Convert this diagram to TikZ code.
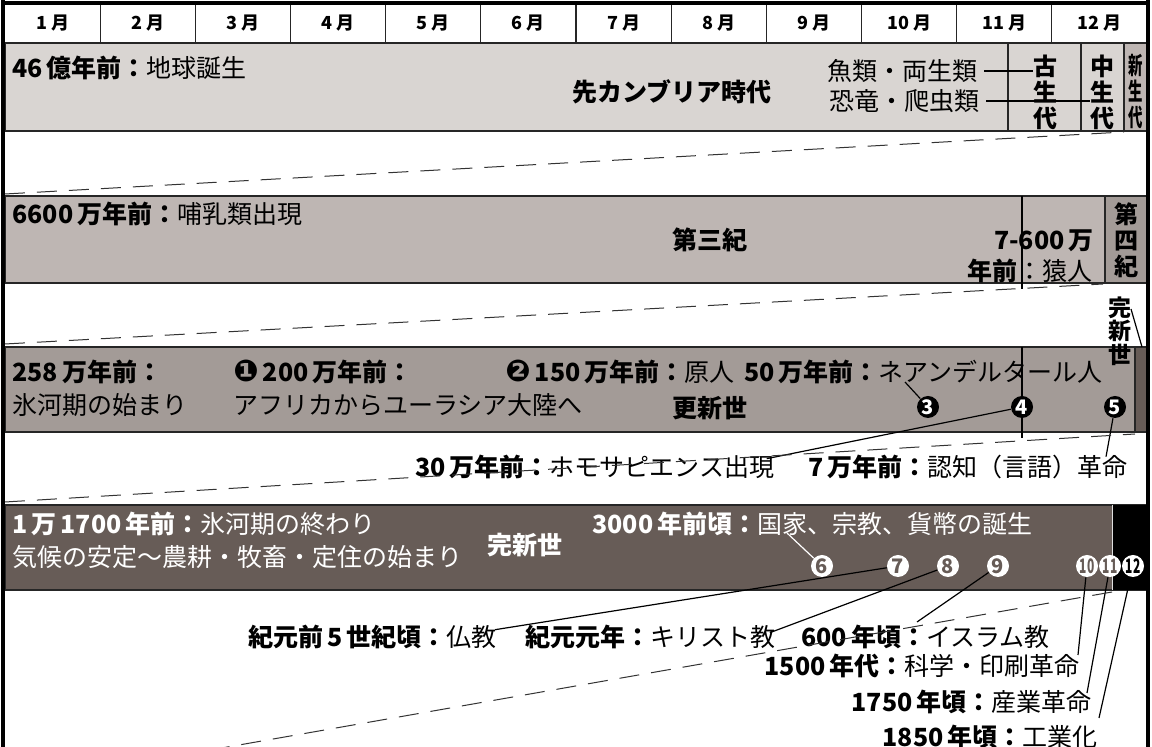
\documentclass[tikz,border=0pt]{standalone}
\usepackage{fontspec}
\setmainfont{Noto Sans CJK JP}
\newfontfamily\dv{DejaVu Sans}
\usetikzlibrary{calc}
\definecolor{bandA}{HTML}{D9D5D2}
\definecolor{bandB}{HTML}{BEB6B3}
\definecolor{bandC}{HTML}{A39B97}
\definecolor{bandD}{HTML}{675C57}
\newcommand\ksp{\hspace{2pt}}
\newcommand\dnum[1]{{\fontsize{15pt}{15pt}\dv #1}}
\begin{document}
\begin{tikzpicture}[x=0.5pt,y=-0.5pt,
  txt/.style={inner sep=0pt, font=\fontsize{12.5pt}{14pt}\selectfont},
  btxt/.style={inner sep=0pt, font=\fontsize{12.5pt}{14pt}\selectfont\bfseries},
  vtxt/.style={inner sep=0pt, align=center, font=\fontsize{12pt}{13pt}\selectfont\bfseries},
  htxt/.style={inner sep=0pt, align=center, font=\fontsize{11.5pt}{11.75pt}\selectfont\bfseries},
  mon/.style={inner sep=0pt, font=\fontsize{9pt}{10pt}\selectfont\bfseries},
  cell/.style={draw=black!85, line width=0.6pt},
  frame/.style={draw=black, line width=1.6pt},
  zoomline/.style={draw=black!80, line width=0.5pt, dash pattern=on 10pt off 6pt},
  conn/.style={draw=black, line width=0.6pt},
  bnum/.style={circle, fill=black, text=white, inner sep=0pt, minimum size=11pt, font=\fontsize{10pt}{10pt}\selectfont\bfseries},
  wnum/.style={circle, fill=white, text=bandD, inner sep=0pt, minimum size=11pt, font=\fontsize{10pt}{10pt}\selectfont\bfseries},
]
\useasboundingbox (0,0) rectangle (1152,747);
\clip (0,0) rectangle (1152,747);
\fill[white] (0,0) rectangle (1152,747);

% header
\foreach \i in {1,...,12} {
  \node[mon] (m\i) at ({5+(\i-0.5)*95.17},23.5) {\i\ksp 月};
}
\foreach \i in {1,...,11} {
  \draw[cell] ({5+\i*95.17},3) -- ({5+\i*95.17},43);
}

% band 1
\draw[cell, fill=bandA] (5,43) rectangle (1147,131);
\draw[cell] (1008,43) rectangle (1081,131);
\draw[cell] (1081,43) rectangle (1124,131);
\draw[cell, fill=bandB] (1124,43) rectangle (1147,131);
\node[txt, anchor=west] (t46) at (12,68) {{\bfseries 46\ksp 億年前：}地球誕生};
\node[btxt] (pre) at (672,92) {先カンブリア時代};
\node[txt, anchor=east] (fish) at (978,71) {魚類・両生類};
\node[txt, anchor=east] (dino) at (980,101) {恐竜・爬虫類};
\node[vtxt] (ko) at (1045,92) {古\\生\\代};
\node[vtxt] (chu) at (1102,92) {中\\生\\代};
\node[vtxt] (shin) at (1136,92) {\scalebox{0.6}[1]{新}\\\scalebox{0.6}[1]{生}\\\scalebox{0.6}[1]{代}};
\draw[conn] ([xshift=3]fish.east) -- (fish.east -| ko.west);
\draw[conn] ([xshift=3]dino.east) -- (dino.east -| chu.west);

% band 2
\draw[cell, fill=bandB] (5,196) rectangle (1147,283);
\draw[cell, fill=bandC] (1105,196) rectangle (1147,283);
\draw[conn] (1022,196) -- (1022,289);
\node[txt, anchor=west] (t66) at (12,214) {{\bfseries 6600\ksp 万年前：}哺乳類出現};
\node[btxt] (third) at (710,240) {第三紀};
\node[btxt, anchor=east] (ape1) at (1094,241) {7-600\ksp 万};
\node[txt, anchor=east] (ape2) at (1093,271) {{\bfseries 年前}：猿人};
\node[vtxt] (q4) at (1126,240) {第\\四\\紀};

% band 3
\draw[cell, fill=bandC] (5,347) rectangle (1147,432);
\draw[cell, fill=bandD] (1135,347) rectangle (1147,432);
\draw[conn] (1022,347) -- (1022,438);
\node[txt, anchor=west] (t258) at (12,372) {\bfseries 258\ksp 万年前：};
\node[txt, anchor=west] (ice) at (12,405) {氷河期の始まり};
\node[txt, anchor=west] (t200) at (233,372) {\bfseries\dnum{❶}\ksp 200\ksp 万年前：};
\node[txt, anchor=west] (t150) at (505,372) {{\bfseries\dnum{❷}\ksp 150\ksp 万年前：}原人};
\node[txt, anchor=west] (afr) at (233,405) {アフリカからユーラシア大陸へ};
\node[txt, anchor=west] (t50) at (744,372) {{\bfseries 50\ksp 万年前：}ネアンデルタール人};
\node[btxt] (pleist) at (710,408) {更新世};
\node[bnum] (n3) at (928,407) {3};
\node[bnum] (n4) at (1022,407) {4};
\node[bnum] (n5) at (1115,407) {5};
\coordinate (n3e) at (905,382);
\draw[conn] (n3) -- (n3e);

% holocene label
\node[htxt] (hol) at (1120,331) {完\\新\\世};
\coordinate (hola) at (1131,309);
\coordinate (hols) at (1142,347);
\draw[conn] (hola) -- (hols);

% band 3 -> 4 labels
\node[txt, anchor=west] (t30) at (415,467) {{\bfseries 30\ksp 万年前：}ホモサピエンス出現};
\node[txt, anchor=west] (t7) at (808,467) {{\bfseries 7\ksp 万年前：}認知（言語）革命};
\coordinate (t30e) at ($(t30.north east)+(-8,4)$);
\coordinate (t7e) at ($(t7.north east)+(-22,2)$);
\draw[conn] (n4) -- (t30e);
\draw[conn] (n5) -- (t7e);

% band 4
\draw[cell, fill=bandD] (5,505) rectangle (1147,590);
\fill[black] (1112,505) rectangle (1147,590);
\draw[white!75!gray, line width=0.5pt] (1112,505) -- (1112,590);
\node[txt, text=white, anchor=west] (t117) at (12,524) {{\bfseries 1\ksp 万\ksp 1700\ksp 年前：}氷河期の終わり};
\node[txt, text=white, anchor=west] (clim) at (12,557) {気候の安定〜農耕・牧畜・定住の始まり};
\node[btxt, text=white] (holo) at (525,545) {完新世};
\node[txt, text=white, anchor=west] (t3000) at (592,524) {{\bfseries 3000\ksp 年前頃：}国家、宗教、貨幣の誕生};
\node[wnum] (n6) at (822,566) {6};
\node[wnum] (n7) at (898,566) {7};
\node[wnum] (n8) at (948,566) {8};
\node[wnum] (n9) at (998,566) {9};
\node[wnum] (n10) at (1087,566) {\scalebox{0.6}[1]{10}};
\node[wnum] (n11) at (1110,566) {\scalebox{0.6}[1]{11}};
\node[wnum, text=black] (n12) at (1133,566) {\scalebox{0.6}[1]{12}};
\coordinate (n6e) at (787,533);
\draw[white, line width=0.6pt] (n6) -- (n6e);

% below band 4
\node[txt, anchor=west] (tbud) at (248,637) {{\bfseries 紀元前\ksp 5\ksp 世紀頃：}仏教};
\node[txt, anchor=west] (tchr) at ([xshift=14]tbud.east) {{\bfseries 紀元元年：}キリスト教};
\node[txt, anchor=east] (tisl) at (1050,637) {{\bfseries 600\ksp 年頃：}イスラム教};
\node[txt, anchor=east] (t1500) at (1080,666) {{\bfseries 1500\ksp 年代：}科学・印刷革命};
\node[txt, anchor=east] (t1750) at (1092,702) {{\bfseries 1750\ksp 年頃：}産業革命};
\node[txt, anchor=east] (t1850) at (1098,737) {{\bfseries 1850\ksp 年頃：}工業化};
\coordinate (n7e) at ($(tbud.north east)+(-2,5)$);
\coordinate (n8e) at ($(tchr.north east)+(-6,8)$);
\coordinate (n9e) at (917,622);
\coordinate (n10e) at (1078,655);
\coordinate (n11e) at (1087,693);
\coordinate (n12e) at (1099,718);
\draw[conn] (n7) -- (n7e);
\draw[conn] (n8) -- (n8e);
\draw[conn] (n9) -- (n9e);
\draw[conn] (n10) -- (n10e);
\draw[conn] (n11) -- (n11e);
\draw[conn] (n12) -- (n12e);

% zoom lines
\draw[zoomline] (5,194) -- (1124,132);
\draw[zoomline] (5,344) -- (1103,284);
\draw[zoomline] (5,502) -- (1135,434);
\draw[zoomline] (1112,592) -- (5,786);

% outer frame
\draw[frame] (3,3) -- (1148,3);
\draw[frame] (3,0) -- (3,747);
\draw[frame] (1148,0) -- (1148,747);
\end{tikzpicture}
\end{document}
